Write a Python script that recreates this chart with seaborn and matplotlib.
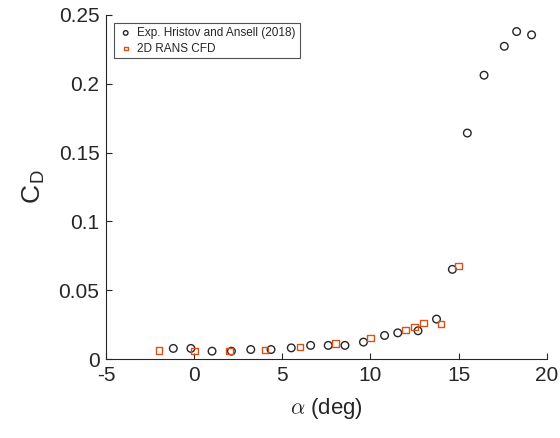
import matplotlib
matplotlib.use("Agg")
import matplotlib.pyplot as plt
import seaborn as sns
import pandas as pd

exp_alpha = [-1.2, -0.2, 1.0, 2.1, 3.2, 4.35, 5.5, 6.6, 7.6, 8.55, 9.6, 10.8,
             11.55, 12.7, 13.75, 14.65, 15.5, 16.45, 17.6, 18.3, 19.15]
exp_cd = [0.0078, 0.0078, 0.0058, 0.0058, 0.0070, 0.0070, 0.0082, 0.0100, 0.0100,
          0.0100, 0.0124, 0.0172, 0.0191, 0.0206, 0.0291, 0.0652, 0.1642, 0.2062,
          0.2272, 0.2379, 0.2355]
cfd_alpha = [-2, 0, 2, 4, 6, 8, 10, 12, 12.5, 13, 14, 15]
cfd_cd = [0.0063, 0.0058, 0.0060, 0.0068, 0.0087, 0.0114, 0.0155, 0.0213,
          0.0233, 0.0262, 0.0257, 0.0678]
labels = ["Exp. Hristov and Ansell (2018)", "2D RANS CFD"]
xticks = [-5, 0, 5, 10, 15, 20]
yticks = [0, 0.05, 0.1, 0.15, 0.2, 0.25]

sns.set_style("ticks")
plt.rcParams['font.family'] = ['Liberation Sans', 'DejaVu Sans']
plt.rcParams['mathtext.fontset'] = 'cm'

fig = plt.figure(figsize=(5.6, 4.38), dpi=100)
ax = fig.add_axes([0.19, 0.18, 0.786, 0.786])

df_exp = pd.DataFrame({"alpha": exp_alpha, "cd": exp_cd})
df_cfd = pd.DataFrame({"alpha": cfd_alpha, "cd": cfd_cd})

sns.scatterplot(data=df_exp, x="alpha", y="cd", ax=ax, marker="o", s=30,
                facecolor="none", edgecolor="#262626", linewidth=1.0,
                label=labels[0], zorder=3)
sns.scatterplot(data=df_cfd, x="alpha", y="cd", ax=ax, marker="s", s=22,
                facecolor="none", edgecolor="#D95319", linewidth=1.0,
                label=labels[1], zorder=3)

ax.set_xlim(-5, 20)
ax.set_ylim(0, 0.25)
ax.set_xticks(xticks)
ax.set_xticklabels([str(t) for t in xticks])
ax.set_yticks(yticks)
ax.set_yticklabels(["0", "0.05", "0.1", "0.15", "0.2", "0.25"])
ax.tick_params(direction="in", length=4, width=0.8, labelsize=15, colors="#262626",
               pad=5)
for side in ["top", "right"]:
    ax.spines[side].set_visible(False)
for side in ["left", "bottom"]:
    ax.spines[side].set_color("#262626")
    ax.spines[side].set_linewidth(0.8)

ax.set_xlabel(r"$\alpha$ (deg)", fontsize=16, color="#262626", labelpad=8)
ax.set_ylabel(r"C$_\mathregular{D}$", fontsize=19, color="#262626", labelpad=8)

leg = ax.legend(loc="upper left", bbox_to_anchor=(0.017, 0.975), fontsize=8.5,
                frameon=True, fancybox=False, edgecolor="#262626",
                handletextpad=0.3, borderpad=0.3, labelspacing=0.3,
                markerscale=0.6, handlelength=1.4, borderaxespad=0)
leg.get_frame().set_linewidth(0.8)

fig.savefig("out.png", dpi=100)
